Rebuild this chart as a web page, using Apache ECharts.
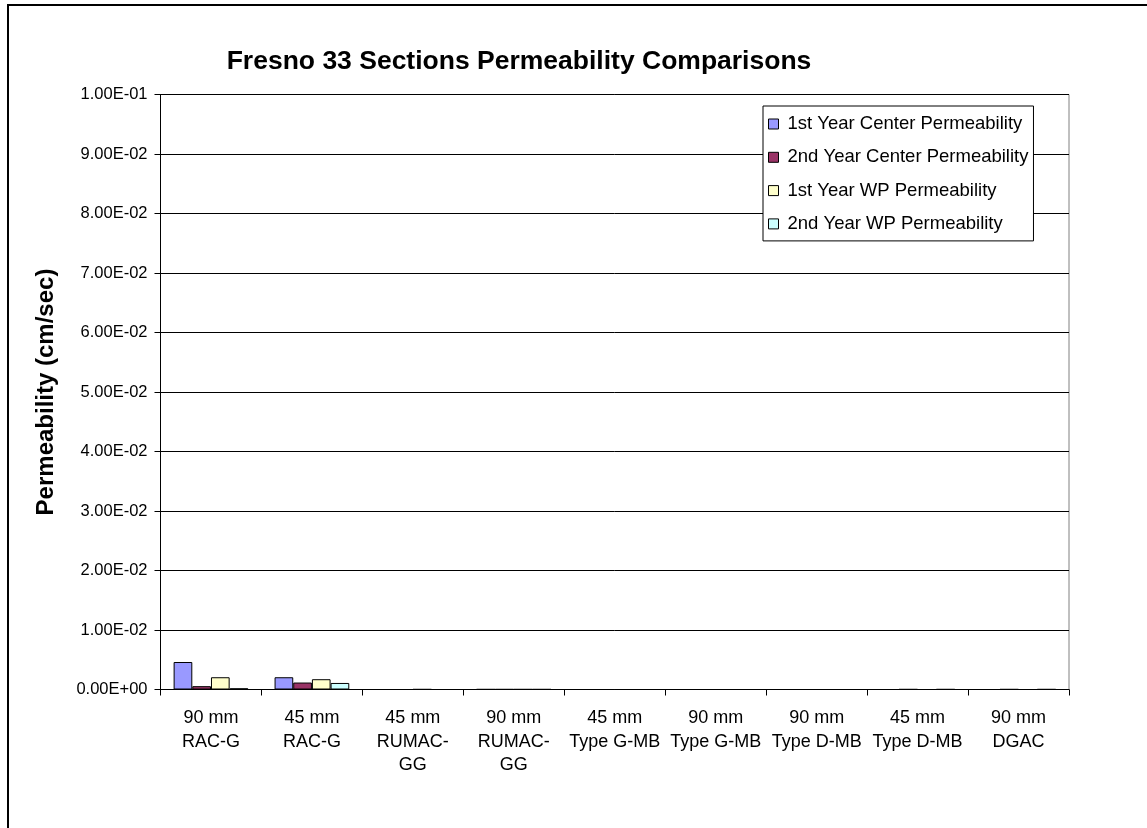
<!DOCTYPE html>
<html>
<head>
<meta charset="utf-8">
<script src="https://cdn.jsdelivr.net/npm/echarts@6/dist/echarts.min.js"></script>
<style>
html,body{margin:0;padding:0;background:#fff;}
#chart{width:1147px;height:828px;}
</style>
</head>
<body>
<div id="chart"></div>
<script>
var categories = ['90 mm\nRAC-G', '45 mm\nRAC-G', '45 mm\nRUMAC-\nGG', '90 mm\nRUMAC-\nGG', '45 mm\nType G-MB', '90 mm\nType G-MB', '90 mm\nType D-MB', '45 mm\nType D-MB', '90 mm\nDGAC'];
var seriesNames = ['1st Year Center Permeability', '2nd Year Center Permeability', '1st Year WP Permeability', '2nd Year WP Permeability'];
var firstYearCenter = [0.00462, 0.00206, null, 0.00004, null, null, null, null, null];
var secondYearCenter = [0.00056, 0.00117, null, 0.00004, null, null, null, 0.00004, 0.00004];
var firstYearWP = [0.00206, 0.00173, 0.00004, 0.00004, null, null, null, null, null];
var secondYearWP = [0.0002, 0.0011, null, 0.00004, null, null, null, 0.00004, 0.00004];
var seriesColors = ['#9999FF', '#993366', '#FFFFCC', '#CCFFFF'];

var FONT = 'Liberation Sans, Arial, sans-serif';

function sci(v) {
  if (v === 0) return '0.00E+00';
  var s = v.toExponential(2).toUpperCase();
  var parts = s.split('E');
  var exp = parseInt(parts[1], 10);
  var sign = exp < 0 ? '-' : '+';
  var a = Math.abs(exp);
  return parts[0] + 'E' + sign + (a < 10 ? '0' + a : '' + a);
}

var dataSets = [firstYearCenter, secondYearCenter, firstYearWP, secondYearWP];
var series = dataSets.map(function (d, i) {
  return {
    name: seriesNames[i],
    type: 'bar',
    data: d,
    barGap: '0%',
    barCategoryGap: '26%',
    itemStyle: { color: seriesColors[i], borderColor: '#000', borderWidth: 1 }
  };
});

var chart = echarts.init(document.getElementById('chart'));
chart.setOption({
  animation: false,
  backgroundColor: '#fff',
  title: {
    text: 'Fresno 33 Sections Permeability Comparisons',
    left: 514, top: 43, textAlign: 'center',
    textStyle: { fontFamily: FONT, fontSize: 26.5, fontWeight: 'bold', color: '#000' }
  },
  legend: {
    orient: 'vertical',
    left: 763, top: 106,
    padding: [8, 5, 7, 5],
    itemWidth: 10, itemHeight: 10, itemGap: 13.3,
    borderColor: '#000', borderWidth: 1,
    backgroundColor: '#fff',
    icon: 'rect',
    itemStyle: { borderColor: '#000', borderWidth: 1 },
    textStyle: { fontFamily: FONT, fontSize: 18.5, color: '#000', lineHeight: 20, padding: [0, 0, 0, 4] },
    data: seriesNames
  },
  graphic: [{
    type: 'rect', z: 100,
    shape: { x: 8, y: 5, width: 1300, height: 1000 },
    style: { fill: null, stroke: '#000', lineWidth: 2 }
  }, {
    type: 'rect', z: 0,
    shape: { x: 160.5, y: 94.5, width: 908.5, height: 595 },
    style: { fill: null, stroke: '#808080', lineWidth: 1 }
  }],
  grid: { left: 160.5, right: 78, top: 94.5, bottom: 138.5 },
  xAxis: {
    type: 'category',
    data: categories,
    axisLine: { lineStyle: { color: '#000', width: 1 } },
    axisTick: { show: true, length: 6, lineStyle: { color: '#000' } },
    axisLabel: { interval: 0, fontFamily: FONT, fontSize: 18, color: '#000', lineHeight: 23.5, margin: 17 }
  },
  yAxis: {
    type: 'value',
    min: 0, max: 0.1, interval: 0.01,
    name: 'Permeability (cm/sec)',
    nameLocation: 'middle',
    nameGap: 102,
    nameTextStyle: { fontFamily: FONT, fontSize: 24, fontWeight: 'bold', color: '#000' },
    axisLine: { show: true, lineStyle: { color: '#000', width: 1 } },
    axisTick: { show: true, length: 6, lineStyle: { color: '#000' } },
    axisLabel: { formatter: sci, fontFamily: FONT, fontSize: 16.5, color: '#000', margin: 13 },
    splitLine: { show: true, lineStyle: { color: '#000', width: 1 } }
  },
  series: series
});
</script>
</body>
</html>
